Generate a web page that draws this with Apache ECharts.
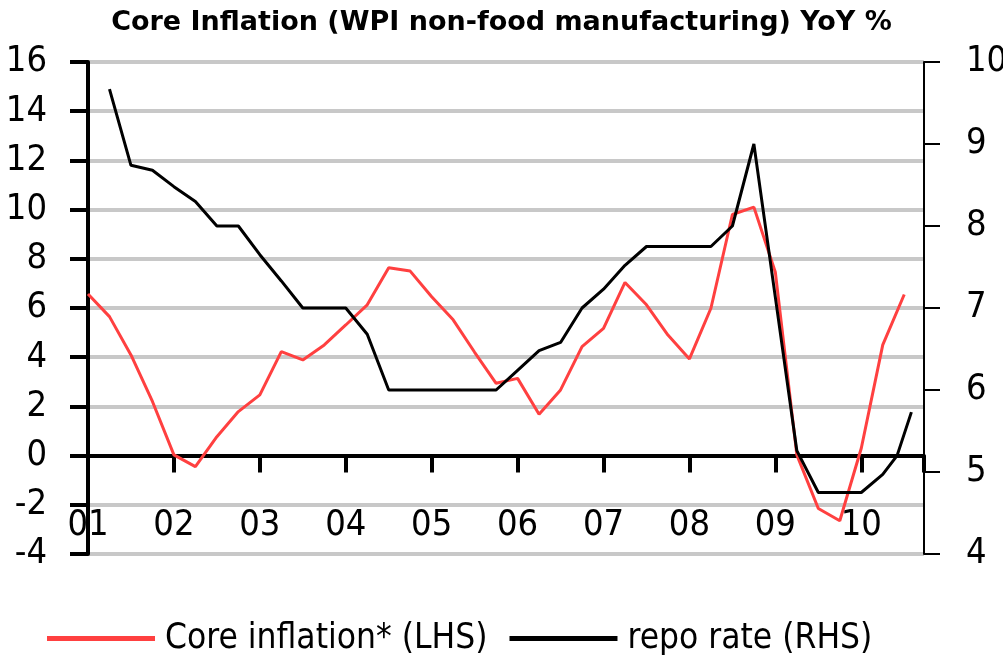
<!DOCTYPE html>
<html>
<head>
<meta charset="utf-8">
<script src="https://cdn.jsdelivr.net/npm/echarts@6/dist/echarts.min.js"></script>
<style>
  html, body { margin: 0; padding: 0; background: #fff; }
  #chart { width: 1003px; height: 656px; }
</style>
</head>
<body>
<div id="chart"></div>
<script>
// quarterly core inflation, LHS
var coreMonths = ['2001-01','2001-04','2001-07','2001-10','2002-01','2002-04','2002-07','2002-10',
    '2003-01','2003-04','2003-07','2003-10','2004-01','2004-04','2004-07','2004-10',
    '2005-01','2005-04','2005-07','2005-10','2006-01','2006-04','2006-07','2006-10',
    '2007-01','2007-04','2007-07','2007-10','2008-01','2008-04','2008-07','2008-10',
    '2009-01','2009-04','2009-07','2009-10','2010-01','2010-04','2010-07'];
var coreValues = [6.57, 5.65, 4.09, 2.2, 0.03, -0.45, 0.77, 1.79,
    2.47, 4.23, 3.89, 4.5, 5.31, 6.13, 7.64, 7.5,
    6.46, 5.52, 4.2, 2.94, 3.14, 1.68, 2.67, 4.43,
    5.17, 7.04, 6.13, 4.9, 3.93, 5.99, 9.8, 10.1,
    7.45, 0.03, -2.15, -2.65, 0.3, 4.5, 6.55];

// repo rate, RHS
var repoMonths = ['2001-04','2001-07','2001-10','2002-01','2002-04','2002-07','2002-10',
    '2003-01','2003-04','2003-07','2003-10','2004-01','2004-04','2004-07','2004-10',
    '2005-01','2005-04','2005-07','2005-10','2006-01','2006-04','2006-07','2006-10',
    '2007-01','2007-04','2007-07','2007-10','2008-01','2008-04','2008-07','2008-10',
    '2009-01','2009-04','2009-07','2009-10','2010-01','2010-04','2010-06','2010-08'];
var repoValues = [9.67, 8.74, 8.68, 8.48, 8.3, 8.0, 8.0,
    7.65, 7.33, 7.0, 7.0, 7.0, 6.68, 6.0, 6.0,
    6.0, 6.0, 6.0, 6.0, 6.24, 6.48, 6.58, 7.0,
    7.23, 7.52, 7.75, 7.75, 7.75, 7.75, 8.0, 9.0,
    7.13, 5.26, 4.75, 4.75, 4.75, 4.97, 5.2, 5.73];

var leftTicks = { min: -4, max: 16, step: 2 };
var rightTicks = { min: 4, max: 10, step: 1 };
var yearRange = { min: 2001, max: 2010.73 };

var narrow = "'DejaVu Sans Condensed', 'Liberation Sans', sans-serif";

function toYear(m) {
    var p = m.split('-');
    return Number(p[0]) + (Number(p[1]) - 1) / 12;
}
function pairs(months, values) {
    var out = [];
    for (var i = 0; i < months.length; i++) out.push([toYear(months[i]), values[i]]);
    return out;
}

var myChart = echarts.init(document.getElementById('chart'));
var option = {
    animation: false,
    title: {
        text: 'Core Inflation (WPI non-food manufacturing) YoY %',
        left: 'center',
        top: 9,
        padding: 0,
        textStyle: { fontFamily: "'DejaVu Sans', Verdana, sans-serif", fontWeight: 'bold', fontSize: 27, color: '#000' }
    },
    legend: {
        left: 47,
        top: 621,
        padding: 0,
        itemWidth: 108,
        itemHeight: 5,
        itemGap: 22,
        icon: 'rect',
        textStyle: { fontFamily: narrow, fontSize: 35, color: '#000', padding: [0, 0, 0, 5] },
        data: ['Core inflation* (LHS)', 'repo rate (RHS)']
    },
    grid: { left: 88, right: 79, top: 62, bottom: 102, outerBoundsMode: 'none', containLabel: false },
    xAxis: {
        type: 'value',
        min: yearRange.min,
        max: yearRange.max,
        interval: 1,
        axisLine: { onZero: true, onZeroAxisIndex: 0, lineStyle: { color: '#000', width: 4 } },
        axisTick: { length: 17, lineStyle: { color: '#000', width: 4 } },
        splitLine: { show: false },
        axisLabel: {
            margin: -46,
            fontFamily: narrow,
            fontSize: 36,
            color: '#000',
            formatter: function (v) {
                return Math.abs(v - Math.round(v)) < 1e-6 ? String(Math.round(v)).slice(2) : '';
            }
        }
    },
    yAxis: [
        {
            type: 'value',
            min: leftTicks.min,
            max: leftTicks.max,
            interval: leftTicks.step,
            axisLine: { show: true, lineStyle: { color: '#000', width: 4 } },
            axisTick: { show: true, length: 18, lineStyle: { color: '#000', width: 4 } },
            splitLine: { lineStyle: { color: '#c8c8c8', width: 4 } },
            axisLabel: { margin: 41, fontFamily: narrow, fontSize: 36, color: '#000' }
        },
        {
            type: 'value',
            position: 'right',
            min: rightTicks.min,
            max: rightTicks.max,
            interval: rightTicks.step,
            axisLine: { show: true, lineStyle: { color: '#000', width: 2 } },
            axisTick: { show: true, length: 16, lineStyle: { color: '#000', width: 2 } },
            splitLine: { show: false },
            axisLabel: { margin: 42, fontFamily: narrow, fontSize: 36, color: '#000' }
        }
    ],
    series: [
        {
            name: 'Core inflation* (LHS)',
            type: 'line',
            yAxisIndex: 0,
            showSymbol: false,
            color: '#ff4040',
            lineStyle: { color: '#ff4040', width: 3 },
            data: pairs(coreMonths, coreValues)
        },
        {
            name: 'repo rate (RHS)',
            type: 'line',
            yAxisIndex: 1,
            showSymbol: false,
            color: '#000',
            lineStyle: { color: '#000', width: 3 },
            data: pairs(repoMonths, repoValues)
        }
    ]
};
myChart.setOption(option);
</script>
</body>
</html>
